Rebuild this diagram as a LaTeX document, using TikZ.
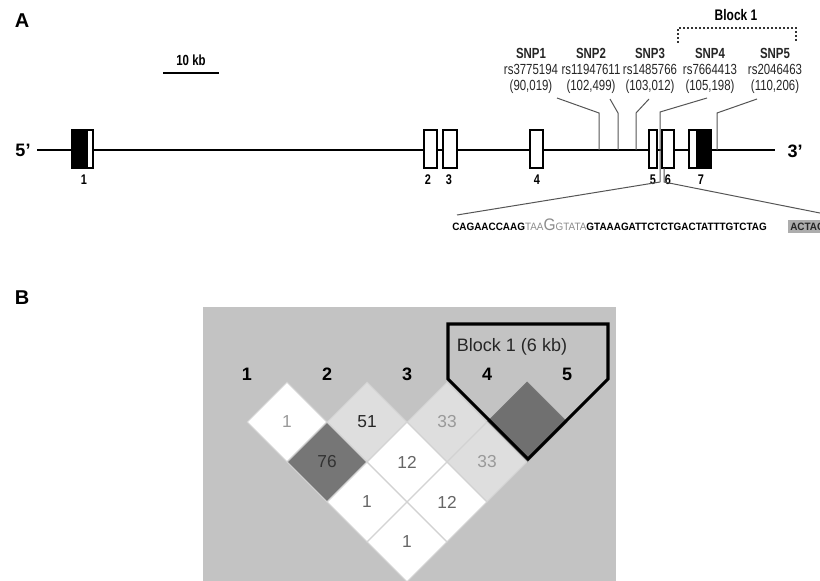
\documentclass[tikz,border=0pt]{standalone}
\usepackage{fontspec}
\setmainfont{Liberation Sans}
\newfontfamily\narrow[FakeStretch=0.78]{Liberation Sans}
\newfontfamily\seqfont[FakeStretch=0.93]{Liberation Sans}
\usetikzlibrary{shapes.geometric}
\definecolor{bgB}{HTML}{C3C3C3}
\definecolor{lineg}{HTML}{555555}
\definecolor{cellline}{HTML}{D2D2D2}
\definecolor{lightc}{HTML}{DEDEDE}
\definecolor{darkc}{HTML}{767676}
\definecolor{txtg}{HTML}{999999}
\definecolor{txtm}{HTML}{666666}
\tikzset{
  panel/.style={font=\bfseries\fontsize{15}{15}\selectfont, inner sep=0},
  snplab/.style={font=\narrow\fontsize{11}{12}\selectfont, align=center, inner sep=0, text=black!85},
  exnum/.style={font=\narrow\bfseries\fontsize{10.5}{10.5}\selectfont, inner sep=0},
  endlab/.style={font=\bfseries\fontsize{13.5}{13.5}\selectfont, inner sep=0},
  snpline/.style={draw=lineg, line width=0.75pt},
  exonbox/.style={draw=black, line width=1.1pt, fill=white},
  cell/.style={shape=diamond, minimum width=60pt, minimum height=60pt, inner sep=0,
    draw=cellline, line width=0.75pt, font=\fontsize{13}{13}\selectfont},
  collab/.style={font=\bfseries\fontsize{13.5}{13.5}\selectfont, inner sep=0},
}
\begin{document}
\begin{tikzpicture}[x=0.75pt, y=-0.75pt]
\useasboundingbox (0,0) rectangle (820,581);
\fill[white] (0,0) rectangle (820,581);
% ---------- Panel A ----------
\node[panel] (A) at (22,21) {A};
\node[font=\narrow\bfseries\fontsize{11}{11}\selectfont, inner sep=0] (kb) at (191,60) {10 kb};
\draw[line width=1.5pt] (163,73) -- (219,73);
% gene line
\node[endlab] (p5) at (23,150) {5’};
\node[endlab] (p3) at (795,151) {3’};
\coordinate (g5) at (37,150);
\coordinate (g3) at (775,150);
\draw[line width=1.5pt] (g5) -- (g3);
% exons
\fill[black] (72,130) rectangle (87,168);
\draw[exonbox] (87,130) rectangle (93,168);
\draw[line width=1.1pt] (72,130) rectangle (93,168);
\draw[exonbox] (424,130) rectangle (437,168);
\draw[exonbox] (443,130) rectangle (457,168);
\draw[exonbox] (530,130) rectangle (543,168);
\draw[exonbox] (649,130) rectangle (657,168);
\draw[exonbox] (662,130) rectangle (674,168);
\draw[exonbox] (689,130) rectangle (697,168);
\fill[black] (697,130) rectangle (711,168);
\draw[line width=1.1pt] (689,130) rectangle (711,168);
\node[exnum] (n1) at (84,180) {1};
\node[exnum] (n2) at (428,180) {2};
\node[exnum] (n3) at (449,180) {3};
\node[exnum] (n4) at (537,180) {4};
\node[exnum] (n5) at (653,180) {5};
\node[exnum] (n6) at (668,180) {6};
\node[exnum] (n7) at (701,180) {7};
% SNP labels
\node[snplab] (s1) at (531,71) {\textbf{SNP1}\\rs3775194\\(90,019)};
\node[snplab] (s2) at (591,71) {\textbf{SNP2}\\rs11947611\\(102,499)};
\node[snplab] (s3) at (650,71) {\textbf{SNP3}\\rs1485766\\(103,012)};
\node[snplab] (s4) at (710,71) {\textbf{SNP4}\\rs7664413\\(105,198)};
\node[snplab] (s5) at (775,71) {\textbf{SNP5}\\rs2046463\\(110,206)};
% SNP pointer lines
\coordinate (a1) at (557,98);  \coordinate (b1) at (599,113); \coordinate (c1) at (599,150);
\coordinate (a2) at (610,99);  \coordinate (b2) at (618,113); \coordinate (c2) at (618,150);
\coordinate (a3) at (649,99);  \coordinate (b3) at (636,113); \coordinate (c3) at (636,150);
\coordinate (a4) at (707,98);  \coordinate (b4) at (660,112); \coordinate (c4) at (660,182);
\coordinate (a5) at (757,99);  \coordinate (b5) at (717,113); \coordinate (c5) at (717,150);
\draw[snpline] (a1) -- (b1) -- (c1);
\draw[snpline] (a2) -- (b2) -- (c2);
\draw[snpline] (a3) -- (b3) -- (c3);
\draw[snpline] (a4) -- (b4) -- (c4);
\draw[snpline] (a5) -- (b5) -- (c5);
% Block 1 bracket
\node[font=\narrow\bfseries\fontsize{11.5}{11.5}\selectfont, inner sep=0] (blk) at (736,15) {Block 1};
\draw[line width=1.5pt, dash pattern=on 1.5pt off 1.5pt, draw=black!80] (678,43) -- (678,28) -- (796,28) -- (796,43);
% expansion lines
\coordinate (ex6t) at (664,168);
\coordinate (ex6b) at (664,182);
\coordinate (exL) at (457,215);
\coordinate (exR) at (835,216);
\draw[snpline] (c4) -- (exL);
\draw[snpline] (ex6t) -- (ex6b) -- (exR);
% sequence
\node[anchor=base west, inner sep=0, font=\seqfont\fontsize{8}{8}\selectfont] (seq) at (452,230)
 {\textbf{CAGAACCAAG}\textcolor{black!45}{TAA{\fontsize{12.5}{12.5}\selectfont G}GTATA}\textbf{GTAAAGATTCTCTGACTATTTGTCTAG}};
\begin{scope}
\clip (0,0) rectangle (820,581);
\node[anchor=base west, inner xsep=1.5pt, inner ysep=2pt, fill=black!32, font=\seqfont\bfseries\fontsize{8}{8}\selectfont, text=black!85] (seq2) at (788,230) {ACTAC};
\end{scope}
% ---------- Panel B ----------
\node[panel] (B) at (22,298) {B};
\fill[bgB] (203,307) rectangle (616,581);
% cells
\node[cell, fill=white, text=txtg] (c12) at (287,422) {1};
\node[cell, fill=lightc, text=black!85] (c23) at (367,422) {51};
\node[cell, fill=lightc, text=txtg] (c34) at (447,422) {33};
\node[cell, fill=darkc!95!black, draw=darkc] (c45) at (527,422) {};
\node[cell, fill=darkc, text=black!80] (c13) at (327,462) {76};
\node[cell, fill=white, text=txtm] (c24) at (407,462) {12};
\node[cell, fill=lightc, text=txtg] (c35) at (487,462) {33};
\node[cell, fill=white, text=txtm] (c14) at (367,502) {1};
\node[cell, fill=white, text=txtm] (c25) at (447,502) {12};
\node[cell, fill=white, text=txtm] (c15) at (407,542) {1};
% column labels
\node[collab] (l1) at (247,374) {1};
\node[collab] (l2) at (327,374) {2};
\node[collab] (l3) at (407,374) {3};
\node[collab] (l4) at (487,374) {4};
\node[collab] (l5) at (567,374) {5};
% block outline
\draw[line width=2.3pt, line join=miter] (448,324) -- (608,324) -- (608,379) -- (528,459) -- (448,379) -- cycle;
\node[font=\fontsize{13.5}{13.5}\selectfont, inner sep=0, text=black!85] (blab) at (512,347) {Block 1 (6 kb)};
\end{tikzpicture}
\end{document}
